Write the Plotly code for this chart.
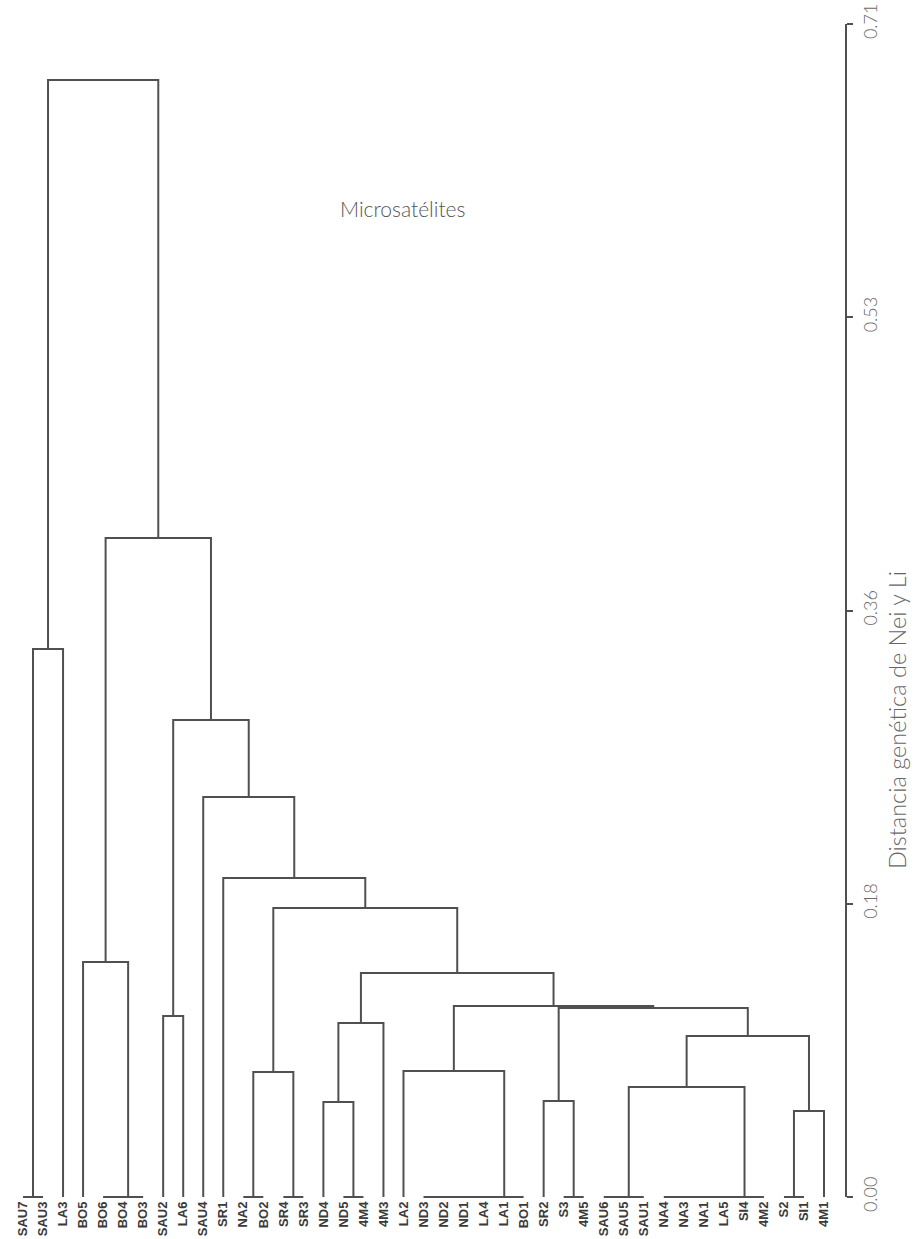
import plotly.graph_objects as go

# ---------------- data ----------------
leaf_labels = ["SAU7", "SAU3", "LA3", "BO5", "BO6", "BO4", "BO3", "SAU2", "LA6", "SAU4",
               "SR1", "NA2", "BO2", "SR4", "SR3", "ND4", "ND5", "4M4", "4M3", "LA2",
               "ND3", "ND2", "ND1", "LA4", "LA1", "BO1", "SR2", "S3", "4M5", "SAU6",
               "SAU5", "SAU1", "NA4", "NA3", "NA1", "LA5", "SI4", "4M2", "S2", "SI1", "4M1"]

# merges: children are leaf names (str) or earlier merge indices (int)
merge_left = ["SAU7", "BO6", 1, "NA2", "SR4", "ND5", "ND3", 6, 7, 8,
              9, "S3", "SAU6", 12, "NA4", 14, 15, 16, 17, "S2",
              19, "ND4", "SR2", 13, 3, "LA2", 23, 21, "SAU2", 22,
              25, 27, "BO5", 24, "SR1", "SAU4", 28, 0, 32, 37]
merge_right = ["SAU3", "BO4", "BO3", "BO2", "SR3", "4M4", "ND2", "ND1", "LA4", "LA1",
               "BO1", "4M5", "SAU5", "SAU1", "NA3", "NA1", "LA5", "SI4", "4M2", "SI1",
               "4M1", 5, 11, 18, 4, 10, 20, "4M3", "LA6", 26,
               29, 30, 2, 31, 33, 34, 35, "LA3", 36, 38]
merge_height = [0.0, 0.0, 0.0, 0.0, 0.0, 0.0, 0.0, 0.0, 0.0, 0.0,
                0.0, 0.0, 0.0, 0.0, 0.0, 0.0, 0.0, 0.0, 0.0, 0.0,
                0.0521, 0.0575, 0.0581, 0.0666, 0.0757, 0.0763, 0.0975, 0.1053, 0.1096, 0.1144,
                0.1156, 0.1356, 0.1422, 0.1749, 0.1931, 0.2421, 0.2887, 0.3317, 0.3989, 0.6761]

tick_vals = [0.0, 0.1775, 0.355, 0.5325, 0.71]
tick_text = ["0.00", "0.18", "0.36", "0.53", "0.71"]

chart_label = "Microsatélites"
axis_title = "Distancia genética de Nei y Li"

# ---------------- build dendrogram paths ----------------
leaf_pos = {name: i for i, name in enumerate(leaf_labels)}
node_x, node_h = [], []


def child_xy(c):
    if isinstance(c, str):
        return float(leaf_pos[c]), 0.0
    return node_x[c], node_h[c]


xs, ys = [], []
for a, b, h in zip(merge_left, merge_right, merge_height):
    xa, ha = child_xy(a)
    xb, hb = child_xy(b)
    xs += [xa, xa, xb, xb, None]
    ys += [ha, h, h, hb, None]
    node_x.append((xa + xb) / 2.0)
    node_h.append(h)

LINE = "#505050"

fig = go.Figure()
fig.add_trace(go.Scatter(x=xs, y=ys, mode="lines",
                         line=dict(color=LINE, width=2),
                         hoverinfo="skip", showlegend=False))

W, H = 922, 1239
m_l, m_r, m_t, m_b = 0, 76, 16, 39
px_per_unit = 1173 / 0.71
y0 = -3 / px_per_unit
y1 = 0.71 + 8 / px_per_unit
x0 = -23 / 20.025
x1 = 40 + 22 / 20.025

fig.update_layout(
    width=W, height=H,
    margin=dict(l=m_l, r=m_r, t=m_t, b=m_b, pad=0),
    paper_bgcolor="white", plot_bgcolor="white",
    showlegend=False,
    xaxis=dict(range=[x0, x1], tickmode="array",
               tickvals=list(range(len(leaf_labels))), ticktext=leaf_labels,
               tickangle=-90, ticks="", showgrid=False, zeroline=False,
               showline=False, automargin=False, ticklabelstandoff=-2,
               tickfont=dict(family="Liberation Sans Narrow, Liberation Sans, Arial",
                             size=13, color="#3a3a3a", weight="bold")),
    yaxis=dict(range=[y0, y1], side="right", tickmode="array",
               tickvals=tick_vals, ticktext=tick_text, tickangle=-90,
               ticks="outside", ticklen=6, tickwidth=2, tickcolor=LINE,
               showgrid=False, zeroline=False, showline=False, automargin=False,
               ticklabelstandoff=2,
               tickfont=dict(family="Lato, Open Sans, sans-serif", size=18,
                             color="#6a6a6a", weight=300)),
    shapes=[dict(type="line", xref="paper", yref="y", x0=1, x1=1,
                 y0=tick_vals[0], y1=tick_vals[-1],
                 line=dict(color=LINE, width=2))],
    annotations=[
        dict(text=chart_label, xref="x", yref="y", x=18.93, y=0.5986,
             showarrow=False, xanchor="center", yanchor="middle",
             font=dict(family="Lato, Open Sans, sans-serif", size=21,
                       color="#555555", weight=300)),
        dict(text=axis_title, xref="paper", yref="y", x=897 / 846, y=0.2887,
             showarrow=False, textangle=-90, xanchor="center", yanchor="middle",
             font=dict(family="Lato, Open Sans, sans-serif", size=23.5,
                       color="#666666", weight=300)),
    ],
)

fig.write_html("out.html")
